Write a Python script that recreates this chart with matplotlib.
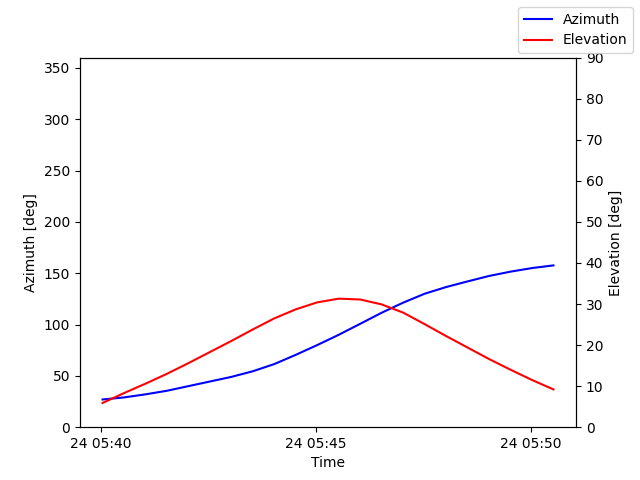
from datetime import datetime, timedelta

import matplotlib
matplotlib.use("Agg")
import matplotlib.dates as mdates
import matplotlib.pyplot as plt


# ============================================================
# DATOS DEL PASO (cada 30 s)
# ============================================================

inicio = datetime(2024, 1, 24, 5, 40, 2)
tiempos = [inicio + timedelta(seconds=30 * i) for i in range(22)]

azimut = [27.0, 29.0, 32.0, 35.5, 40.0, 44.5, 49.0, 54.5, 61.5, 70.5,
          80.0, 90.0, 100.7, 111.5, 121.3, 130.0, 136.5, 142.0, 147.3,
          151.5, 155.0, 157.6]

elevacion = [5.9, 8.3, 10.6, 13.0, 15.6, 18.3, 21.0, 23.8, 26.5, 28.7,
             30.4, 31.3, 31.1, 29.9, 27.9, 25.1, 22.2, 19.4, 16.6, 14.0,
             11.5, 9.2]


# ============================================================
# GRÁFICO
# ============================================================

fig, ax = plt.subplots(figsize=(6.4, 4.8), dpi=100)

ax.plot(tiempos, azimut, color="blue", label="Azimuth")
ax.set_ylim(0, 360)
ax.set_xlabel("Time")
ax.set_ylabel("Azimuth [deg]")

ax2 = ax.twinx()
ax2.plot(tiempos, elevacion, color="red", label="Elevation")
ax2.set_ylim(0, 90)
ax2.set_ylabel("Elevation [deg]")

ax.xaxis.set_major_locator(mdates.MinuteLocator(byminute=range(0, 60, 5)))
ax.xaxis.set_major_formatter(mdates.DateFormatter("%d %H:%M"))

fig.legend(loc="upper right")

plt.savefig("out.png", dpi=100)
plt.close()
